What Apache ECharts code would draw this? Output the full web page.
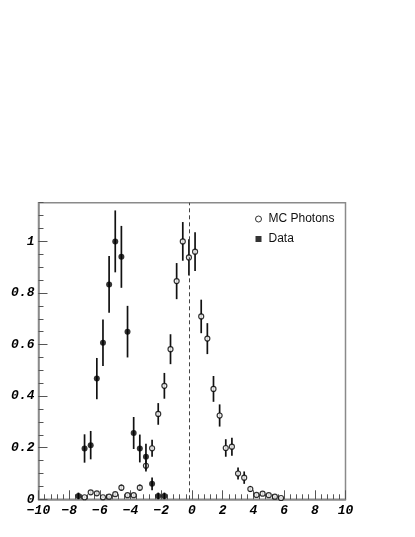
<!DOCTYPE html>
<html>
<head>
<meta charset="utf-8">
<script src="https://cdn.jsdelivr.net/npm/echarts@6/dist/echarts.min.js"></script>
<style>
  html, body { margin: 0; padding: 0; background: #fff; }
  #chart { width: 415px; height: 537px; }
</style>
</head>
<body>
<div id="chart"></div>
<script>
// MC photons (open markers): bin centre, value, error
var mcX = [-7.0, -6.6, -6.2, -5.8, -5.4, -5.0, -4.6, -4.2, -3.8, -3.4, -3.0, -2.6, -2.2, -1.8,
           -1.4, -1.0, -0.6, -0.2, 0.2, 0.6, 1.0, 1.4, 1.8, 2.2, 2.6, 3.0, 3.4, 3.8, 4.2, 4.6, 5.0, 5.4, 5.8];
var mcY = [0.008, 0.027, 0.023, 0.008, 0.010, 0.020, 0.045, 0.016, 0.016, 0.045, 0.130, 0.198, 0.331, 0.440,
           0.582, 0.846, 1.000, 0.938, 0.960, 0.709, 0.623, 0.428, 0.325, 0.199, 0.204, 0.100, 0.084, 0.040, 0.017, 0.022, 0.016, 0.010, 0.005];
var mcErr = [0.004, 0.008, 0.008, 0.004, 0.005, 0.008, 0.012, 0.006, 0.006, 0.012, 0.022, 0.033, 0.042, 0.050,
             0.058, 0.070, 0.075, 0.070, 0.075, 0.065, 0.060, 0.050, 0.043, 0.034, 0.035, 0.023, 0.024, 0.012, 0.006, 0.007, 0.006, 0.005, 0.003];

// Data (filled markers)
var dataX = [-7.4, -7.0, -6.6, -6.2, -5.8, -5.4, -5.0, -4.6, -4.2, -3.8, -3.4, -3.0, -2.6, -2.2, -1.8];
var dataY = [0.013, 0.197, 0.210, 0.468, 0.607, 0.833, 1.000, 0.940, 0.650, 0.257, 0.197, 0.165, 0.060, 0.013, 0.013];
var dataErr = [0.013, 0.055, 0.055, 0.080, 0.090, 0.110, 0.120, 0.120, 0.100, 0.062, 0.054, 0.050, 0.025, 0.013, 0.013];

var cutX = -0.2;

function pts(xs, ys, es) {
  var out = [];
  for (var i = 0; i < xs.length; i++) out.push([xs[i], ys[i], es[i]]);
  return out;
}

// vertical error bars
function errBar(params, api) {
  var x = api.value(0), y = api.value(1), e = api.value(2);
  var lo = api.coord([x, Math.max(0, y - e)]);
  var hi = api.coord([x, y + e]);
  return {
    type: 'line',
    shape: { x1: lo[0], y1: lo[1], x2: hi[0], y2: hi[1] },
    style: { stroke: '#111', lineWidth: 1.7 }
  };
}

var tickFont = {
  fontFamily: 'Liberation Mono',
  fontWeight: 'bold',
  fontStyle: 'italic',
  fontSize: 13,
  color: '#000'
};

function fmt(v) {
  var s = String(Math.round(v * 10) / 10);
  return s.replace('-', '\u2212');
}

var chart = echarts.init(document.getElementById('chart'), null, { renderer: 'canvas' });
chart.setOption({
  animation: false,
  backgroundColor: '#fff',
  grid: {
    left: 38.5, right: 69.5, top: 202.7, bottom: 37.7,
    show: true, borderColor: '#8a8a8a', borderWidth: 1.5, backgroundColor: 'transparent'
  },
  legend: {
    orient: 'vertical',
    left: 250, top: 208,
    itemWidth: 6, itemHeight: 6, itemGap: 8,
    textStyle: { fontFamily: 'Liberation Sans', fontSize: 12, color: '#111', padding: [0, 0, 0, 2] },
    data: [
      { name: 'MC Photons', icon: 'circle', itemStyle: { color: '#fff', borderColor: '#000', borderWidth: 1 } },
      { name: 'Data', icon: 'rect', itemStyle: { color: '#000', borderWidth: 0 } }
    ]
  },
  xAxis: {
    type: 'value', min: -10, max: 10, interval: 2,
    axisLine: { onZero: false, lineStyle: { color: '#8a8a8a', width: 1.5 } },
    axisTick: { inside: true, length: 9, lineStyle: { color: '#555', width: 1 } },
    minorTick: { show: true, splitNumber: 5, length: 5, lineStyle: { color: '#555', width: 1 } },
    splitLine: { show: false },
    axisLabel: Object.assign({ margin: 5, formatter: fmt }, tickFont)
  },
  yAxis: [{
    type: 'value', min: 0, max: 1.15, interval: 0.2,
    axisLine: { onZero: false, lineStyle: { color: '#8a8a8a', width: 1.5 } },
    axisTick: { inside: true, length: 9, lineStyle: { color: '#555', width: 1 } },
    splitLine: { show: false },
    axisLabel: Object.assign({ margin: 4, showMaxLabel: false, formatter: fmt }, tickFont)
  }, {
    // minor ticks every 0.05
    type: 'value', min: 0, max: 1.15, interval: 0.05, position: 'left',
    axisLine: { show: false, onZero: false },
    axisTick: { inside: true, length: 5, lineStyle: { color: '#555', width: 1 } },
    splitLine: { show: false },
    axisLabel: { show: false }
  }],
  series: [{
    type: 'custom', name: 'mcErr', renderItem: errBar, z: 2,
    data: pts(mcX, mcY, mcErr), encode: { x: 0, y: 1 }, silent: true
  }, {
    type: 'scatter', name: 'MC Photons', symbol: 'circle', symbolSize: 5, z: 3,
    itemStyle: { color: '#fff', borderColor: '#000', borderWidth: 1.2 },
    data: pts(mcX, mcY, mcErr),
    markLine: {
      silent: true, symbol: 'none', label: { show: false },
      lineStyle: { type: [4, 3], color: '#444', width: 1 },
      data: [{ xAxis: cutX }]
    }
  }, {
    type: 'custom', name: 'dataErr', renderItem: errBar, z: 4,
    data: pts(dataX, dataY, dataErr), encode: { x: 0, y: 1 }, silent: true
  }, {
    type: 'scatter', name: 'Data', symbol: 'circle', symbolSize: 6, z: 5,
    itemStyle: { color: '#000', borderWidth: 0 },
    data: pts(dataX, dataY, dataErr)
  }]
});
</script>
</body>
</html>
